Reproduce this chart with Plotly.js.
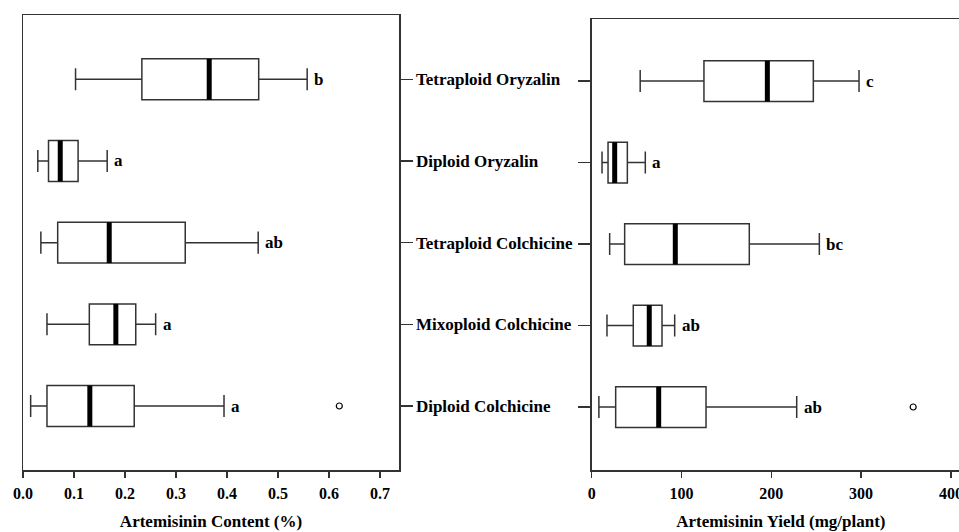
<!DOCTYPE html>
<html>
<head>
<meta charset="utf-8">
<script src="https://cdn.plot.ly/plotly-3.0.1.min.js"></script>
<style>
html,body{margin:0;padding:0;overflow:hidden;background:#fff;}
#chart{width:970px;height:532px;}
</style>
</head>
<body>
<div id="chart"></div>
<script>
// Categories, bottom to top
const categories = ["Diploid Colchicine", "Mixoploid Colchicine", "Tetraploid Colchicine", "Diploid Oryzalin", "Tetraploid Oryzalin"];
const positions = [0, 1, 2, 3, 4];

// Artemisinin content (%)
const contentLow    = [0.015, 0.047, 0.035, 0.029, 0.103];
const contentQ1     = [0.047, 0.130, 0.068, 0.050, 0.233];
const contentMedian = [0.131, 0.182, 0.169, 0.073, 0.365];
const contentQ3     = [0.218, 0.221, 0.318, 0.108, 0.462];
const contentHigh   = [0.394, 0.260, 0.461, 0.165, 0.557];
const contentLetters = ["a", "a", "ab", "a", "b"];
const contentOutlierX = [0.62];
const contentOutlierY = [0];

// Artemisinin yield (mg/plant)
const yieldLow    = [8, 17, 20, 11.5, 54];
const yieldQ1     = [26.7, 46.3, 36.7, 18.2, 125];
const yieldMedian = [74.6, 64.1, 93.1, 25.6, 195.6];
const yieldQ3     = [127.3, 78.3, 175.5, 39.7, 246.8];
const yieldHigh   = [228.3, 92.4, 253.5, 59.7, 297.7];
const yieldLetters = ["ab", "ab", "bc", "a", "c"];
const yieldOutlierX = [358];
const yieldOutlierY = [0];

const FONT = "Liberation Serif";
const LINE = "#333";

function boxTrace(low, q1, med, q3, high, xa, ya) {
  return {
    type: "box", orientation: "h",
    y: positions, q1: q1, median: med, q3: q3, lowerfence: low, upperfence: high,
    width: 0.5, whiskerwidth: 0.54,
    fillcolor: "white", line: {color: LINE, width: 1.5},
    boxpoints: false, hoverinfo: "skip", showlegend: false,
    xaxis: xa, yaxis: ya
  };
}
function medianTrace(med, xa, ya) {
  const xs = [], ys = [];
  med.forEach((m, i) => { xs.push(m, m, null); ys.push(positions[i] - 0.25, positions[i] + 0.25, null); });
  return {type: "scatter", mode: "lines", x: xs, y: ys, line: {color: "black", width: 5},
          hoverinfo: "skip", showlegend: false, xaxis: xa, yaxis: ya};
}
function outlierTrace(xs, ys, xa, ya) {
  return {type: "scatter", mode: "markers", x: xs, y: ys,
          marker: {symbol: "circle-open", size: 6, color: "black", line: {width: 1.2}},
          hoverinfo: "skip", showlegend: false, xaxis: xa, yaxis: ya};
}
function letterAnns(high, letters, xref, yref) {
  return letters.map((t, i) => ({
    x: high[i], y: positions[i], xref: xref, yref: yref, text: t, showarrow: false,
    xanchor: "left", yanchor: "middle", xshift: 5,
    font: {family: FONT, size: 17, color: "black", weight: "bold"}
  }));
}

const data = [
  boxTrace(contentLow, contentQ1, contentMedian, contentQ3, contentHigh, "x", "y"),
  boxTrace(yieldLow, yieldQ1, yieldMedian, yieldQ3, yieldHigh, "x2", "y2"),
  medianTrace(contentMedian, "x", "y"),
  medianTrace(yieldMedian, "x2", "y2"),
  outlierTrace(contentOutlierX, contentOutlierY, "x", "y"),
  outlierTrace(yieldOutlierX, yieldOutlierY, "x2", "y2")
];

const W = 970, H = 532;
const numFont = {family: FONT, size: 16, color: "black", weight: "bold"};
const catFont = {family: FONT, size: 17, color: "black", weight: "bold"};
const titleFont = {family: FONT, size: 17, color: "black", weight: "bold"};

const layout = {
  width: W, height: H,
  margin: {l: 0, r: 0, t: 0, b: 0},
  paper_bgcolor: "white", plot_bgcolor: "white",
  font: {family: FONT},
  showlegend: false,
  xaxis: {
    domain: [23 / W, 399 / W], anchor: "y", range: [0, 0.737],
    tick0: 0, dtick: 0.1, tickformat: ".1f",
    ticks: "outside", ticklen: 6, tickwidth: 1.3, tickcolor: LINE,
    showline: true, mirror: true, linecolor: LINE, linewidth: 1.5,
    showgrid: false, zeroline: false, tickfont: numFont, ticklabelstandoff: 2,
    title: {text: "Artemisinin Content (%)", font: titleFont, standoff: 14}
  },
  xaxis3: {
    overlaying: "x", matches: "x", anchor: "y", range: [0, 0.737],
    tick0: 0, dtick: 0.1, ticks: "inside", ticklen: 8, tickwidth: 1.3, tickcolor: LINE,
    showticklabels: false, showline: false, showgrid: false, zeroline: false
  },
  yaxis: {
    domain: [1 - 470 / H, 1 - 15 / H], anchor: "x", range: [-0.7836, 4.787],
    side: "right", tickvals: positions, ticktext: categories,
    ticks: "outside", ticklen: 12, tickwidth: 1.3, tickcolor: LINE,
    showline: true, mirror: true, linecolor: LINE, linewidth: 1.5,
    showgrid: false, zeroline: false, tickfont: catFont
  },
  xaxis2: {
    domain: [591.7 / W, 1], anchor: "y2", range: [0, (W - 591.7) / 0.898],
    tick0: 0, dtick: 100,
    ticks: "outside", ticklen: 6, tickwidth: 1.3, tickcolor: LINE,
    showline: true, mirror: true, linecolor: LINE, linewidth: 1.5,
    showgrid: false, zeroline: false, tickfont: numFont, ticklabelstandoff: 2,
    title: {text: "Artemisinin Yield (mg/plant)", font: titleFont, standoff: 14}
  },
  xaxis4: {
    overlaying: "x2", matches: "x2", anchor: "y2", range: [0, (W - 591.7) / 0.898],
    tick0: 0, dtick: 100, ticks: "inside", ticklen: 8, tickwidth: 1.3, tickcolor: LINE,
    showticklabels: false, showline: false, showgrid: false, zeroline: false
  },
  yaxis2: {
    domain: [1 - 470 / H, 1 - 19 / H], anchor: "x2", range: [-0.773, 4.761],
    side: "left", tickvals: positions, ticktext: categories, showticklabels: false,
    ticks: "outside", ticklen: 12, tickwidth: 1.3, tickcolor: LINE,
    showline: true, mirror: false, linecolor: LINE, linewidth: 1.5,
    showgrid: false, zeroline: false
  },
  annotations: letterAnns(contentHigh, contentLetters, "x", "y")
    .concat(letterAnns(yieldHigh, yieldLetters, "x2", "y2"))
};

Plotly.newPlot("chart", data, layout, {staticPlot: true, displayModeBar: false});
</script>
</body>
</html>
